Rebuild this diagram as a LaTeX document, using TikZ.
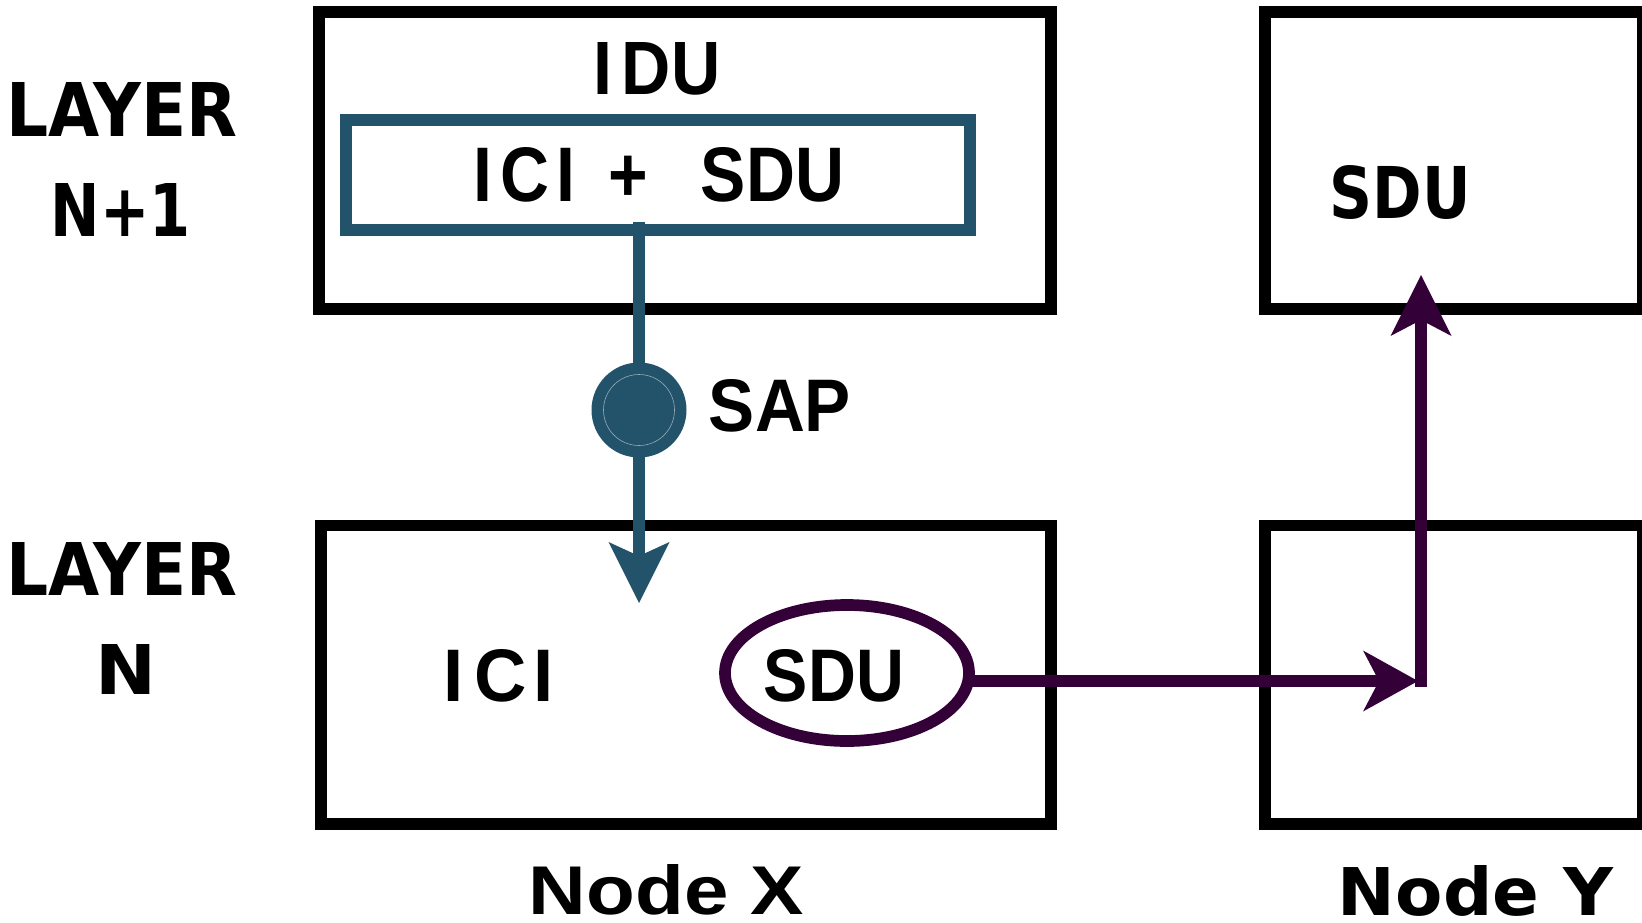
\documentclass[tikz,border=0pt]{standalone}
\usepackage{fontspec}
\usepackage{graphicx}
\usetikzlibrary{arrows.meta,calc,shapes.geometric}
\newfontfamily\dvsans{DejaVu Sans}
\newfontfamily\lbsans{Liberation Sans}
\definecolor{tealc}{RGB}{34,83,107}
\definecolor{purpc}{RGB}{52,0,56}
\definecolor{ringc}{RGB}{150,172,186}
\begin{document}
\begin{tikzpicture}[x=1pt,y=-1pt,
  frame/.style={draw=black,line width=11.7pt,rectangle,inner sep=0pt},
  lbl/.style={inner sep=0pt,outer sep=0pt},
  tealline/.style={draw=tealc,line width=11.7pt},
  purpline/.style={draw=purpc,line width=11.7pt}]
\useasboundingbox (0,0) rectangle (1642,922);
% frames
\node[frame,minimum width=732pt,minimum height=297pt] (xtop) at (685,160.5) {};
\node[frame,minimum width=730pt,minimum height=298.5pt] (xbot) at (686,674.75) {};
\node[frame,minimum width=378pt,minimum height=297pt] (ytop) at (1454,160.5) {};
\node[frame,minimum width=378pt,minimum height=298.5pt] (ybot) at (1454,674.75) {};
% inner teal box
\node[draw=tealc,line width=11.7pt,rectangle,inner sep=0pt,minimum width=624pt,minimum height=110pt] (ici) at (658,175) {};
\node[lbl] (icitxt) at (659,175) {\lbsans\bfseries\resizebox{370pt}{54pt}{I\hspace{0.12em}C\hspace{0.1em}I\hspace{0.21em} + \hspace{0.5em}SDU}};
% ellipse
\node[draw=purpc,line width=11.7pt,ellipse,inner sep=0pt,minimum width=244pt,minimum height=136pt] (sdue) at (847,673) {};
% coordinates
\coordinate (tipA) at (639,603);
\coordinate (corner) at (1421,681);
\coordinate (htip) at (1418,681);
\coordinate (vtip) at (1421,275);
% teal connector
\draw[tealline,-{Stealth[length=61pt,width=61pt,inset=14pt,line width=0pt]}] ($(ici.south -| tipA)+(0,-14)$) -- (tipA);
\node[circle,fill=tealc,inner sep=0pt,minimum size=95pt] (sap) at (639,410) {};
\draw[ringc,line width=0.6pt] (sap.center) circle[radius=35.5];
% purple connectors
\draw[purpline,-{Stealth[length=55pt,width=61pt,inset=16pt,line width=0pt]}] ($(sdue.east |- corner)+(-12,0)$) -- (htip);
\draw[purpline,-{Stealth[length=61pt,width=61pt,inset=16pt,line width=0pt]}] ($(corner)+(0,6)$) -- (vtip);
% texts
\node[lbl] (lay1) at (122,109) {\dvsans\bfseries\resizebox{231pt}{54pt}{LAYER}};
\node[lbl] (n1) at (121,209.5) {\dvsans\bfseries\resizebox{140pt}{53pt}{N+1}};
\node[lbl] (lay0) at (122,568.5) {\dvsans\bfseries\resizebox{231pt}{53pt}{LAYER}};
\node[lbl] (n0) at (125.6,669) {\dvsans\bfseries\resizebox{61pt}{50pt}{N}};
\node[lbl] (idu) at (657,69) {\lbsans\bfseries\resizebox{127pt}{52pt}{I\hspace{0.14em}DU}};
\node[lbl] (saptxt) at (780,406) {\lbsans\bfseries\resizebox{142pt}{52pt}{SAP}};
\node[lbl] (ici0) at (499,676) {\lbsans\bfseries\resizebox{110pt}{52pt}{I\hspace{0.14em}C\hspace{0.1em}I}};
\node[lbl] (sdu0) at (834,676) {\lbsans\bfseries\resizebox{140pt}{52pt}{SDU}};
\node[lbl] (nodex) at (666.5,889.5) {\lbsans\bfseries\resizebox{275pt}{50pt}{Node X}};
\node[lbl] (sdu1) at (1400.5,192) {\dvsans\bfseries\resizebox{141pt}{53pt}{SDU}};
\node[lbl] (nodey) at (1475.5,891) {\dvsans\bfseries\resizebox{275pt}{50pt}{Node Y}};
\end{tikzpicture}
\end{document}
